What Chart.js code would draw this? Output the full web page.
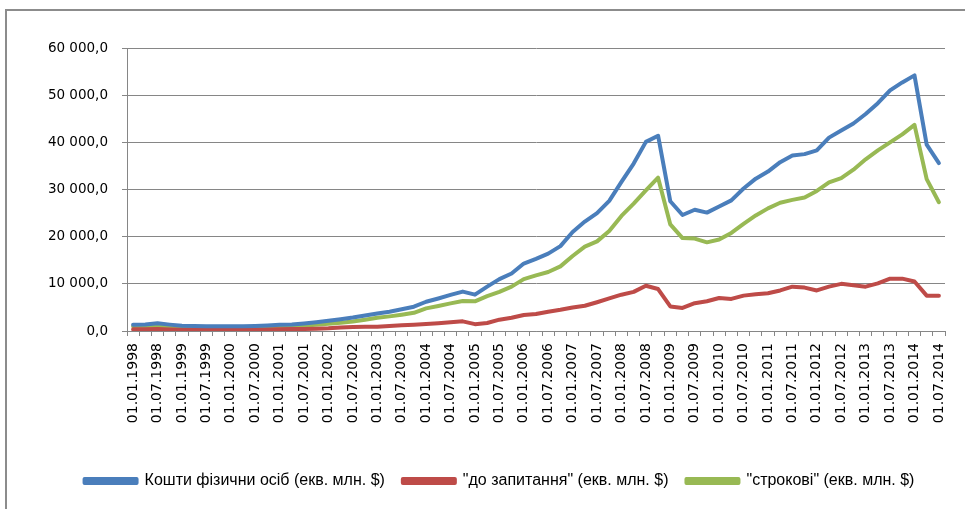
<!DOCTYPE html>
<html>
<head>
<meta charset="utf-8">
<script src="https://cdn.jsdelivr.net/npm/chart.js@4/dist/chart.umd.min.js"></script>
<style>
  html, body { margin: 0; padding: 0; background: #fff; overflow: hidden; }
  #wrap { position: relative; width: 965px; height: 509px; }
  #frame { position: absolute; left: 5px; top: 9px; width: 1000px; height: 600px;
           border: 2px solid #8c8c8c; box-sizing: border-box; }
  canvas { position: absolute; left: 0; top: 0; }
</style>
</head>
<body>
<div id="wrap">
  <div id="frame"></div>
  <canvas id="c" width="965" height="509"></canvas>
</div>
<script>
// Quarterly reporting dates
const quarters = [
  "01.01.1998","01.04.1998","01.07.1998","01.10.1998",
  "01.01.1999","01.04.1999","01.07.1999","01.10.1999",
  "01.01.2000","01.04.2000","01.07.2000","01.10.2000",
  "01.01.2001","01.04.2001","01.07.2001","01.10.2001",
  "01.01.2002","01.04.2002","01.07.2002","01.10.2002",
  "01.01.2003","01.04.2003","01.07.2003","01.10.2003",
  "01.01.2004","01.04.2004","01.07.2004","01.10.2004",
  "01.01.2005","01.04.2005","01.07.2005","01.10.2005",
  "01.01.2006","01.04.2006","01.07.2006","01.10.2006",
  "01.01.2007","01.04.2007","01.07.2007","01.10.2007",
  "01.01.2008","01.04.2008","01.07.2008","01.10.2008",
  "01.01.2009","01.04.2009","01.07.2009","01.10.2009",
  "01.01.2010","01.04.2010","01.07.2010","01.10.2010",
  "01.01.2011","01.04.2011","01.07.2011","01.10.2011",
  "01.01.2012","01.04.2012","01.07.2012","01.10.2012",
  "01.01.2013","01.04.2013","01.07.2013","01.10.2013",
  "01.01.2014","01.04.2014","01.07.2014"
];

// Household deposits, USD mln equivalent
const totalDeposits = [
  1350,1400,1650,1350,1100,1050,1000,1000,1000,1000,1050,1150,1300,1400,1600,1850,2150,
  2500,2850,3300,3700,4100,4600,5150,6200,6900,7650,8350,7700,9400,11000,12200,14300,
  15300,16400,18000,21000,23200,25000,27600,31600,35500,40100,41400,27500,24600,25700,25100,26400,27700,
  30200,32300,33800,35800,37200,37500,38300,41000,42500,44000,46000,48300,51000,52700,54200,39500,35600
];
const demandDeposits = [
  350,350,400,300,250,200,200,200,200,250,250,300,350,400,450,500,560,
  750,850,900,900,1050,1200,1350,1500,1650,1850,2050,1450,1700,2400,2800,3400,
  3600,4100,4500,5000,5350,6100,6900,7700,8300,9600,8900,5200,4900,5900,6300,7000,6800,
  7500,7800,8000,8600,9400,9200,8600,9400,10000,9700,9400,10100,11100,11100,10500,7500,7500
];
const termDeposits = [
  1000,1050,1050,950,850,850,800,800,800,800,800,850,950,1000,1150,1350,1550,
  1750,2000,2400,2800,3100,3450,3850,4800,5300,5850,6350,6300,7400,8300,9400,11000,
  11800,12500,13700,15900,17900,19000,21200,24400,27000,29800,32500,22600,19700,19600,18800,19400,20800,
  22700,24500,26000,27200,27800,28300,29700,31500,32400,34200,36400,38300,40000,41700,43700,32200,27300
];

const seriesNames = [
  "Кошти фізични осіб (екв. млн. $)",
  "\"до запитання\" (екв. млн. $)",
  "\"строкові\" (екв. млн. $)"
];
const yTicks = { min: 0, max: 60000, step: 10000 };

const BLUE = '#4a7ebb', RED = '#be4b48', GREEN = '#98b954';
const AXIS = '#868686';

function fmt(v) {
  return String(v).replace(/\B(?=(\d{3})+(?!\d))/g, ' ') + ',0';
}

function line(label, data, color) {
  return {
    label, data,
    borderColor: color, backgroundColor: color,
    borderWidth: 4, pointRadius: 0, tension: 0,
    borderJoinStyle: 'round', borderCapStyle: 'round'
  };
}

// Legend sits a little right of the canvas centre, under the plot area
const legendShift = {
  id: 'legendShift',
  afterLayout(chart) {
    const lg = chart.legend;
    if (lg) { lg.left += 27; lg.right += 27; }
  }
};

new Chart(document.getElementById('c'), {
  type: 'line',
  data: {
    labels: quarters,
    datasets: [
      line(seriesNames[0], totalDeposits, BLUE),
      line(seriesNames[1], demandDeposits, RED),
      line(seriesNames[2], termDeposits, GREEN)
    ]
  },
  plugins: [legendShift],
  options: {
    responsive: false,
    animation: false,
    devicePixelRatio: 1,
    layout: { padding: { left: 0, right: 20, top: 48, bottom: 10 } },
    plugins: {
      tooltip: { enabled: false },
      legend: {
        position: 'bottom',
        labels: {
          boxWidth: 52, boxHeight: 4, padding: 18,
          color: '#000',
          font: { family: 'Liberation Sans, Arial, sans-serif', size: 16 }
        }
      }
    },
    scales: {
      x: {
        offset: true,
        afterFit: s => { s.height = 124; },
        border: { display: true, color: AXIS, width: 1 },
        grid: { display: true, offset: true, drawOnChartArea: false, drawTicks: true,
                tickLength: 5, color: AXIS },
        ticks: {
          autoSkip: false, minRotation: 90, maxRotation: 90, padding: 7,
          color: '#000',
          font: { family: 'DejaVu Sans, sans-serif', size: 14 },
          callback: function (v, i) { return i % 2 === 0 ? this.getLabelForValue(v) : ''; }
        }
      },
      y: {
        min: yTicks.min, max: yTicks.max,
        afterFit: s => { s.width = 127; },
        border: { display: true, color: AXIS, width: 1 },
        grid: { color: AXIS, tickLength: 5, drawTicks: true },
        ticks: {
          stepSize: yTicks.step, padding: 14, color: '#000',
          font: { family: 'DejaVu Sans, sans-serif', size: 13.5 },
          callback: v => fmt(v)
        }
      }
    }
  }
});
</script>
</body>
</html>
